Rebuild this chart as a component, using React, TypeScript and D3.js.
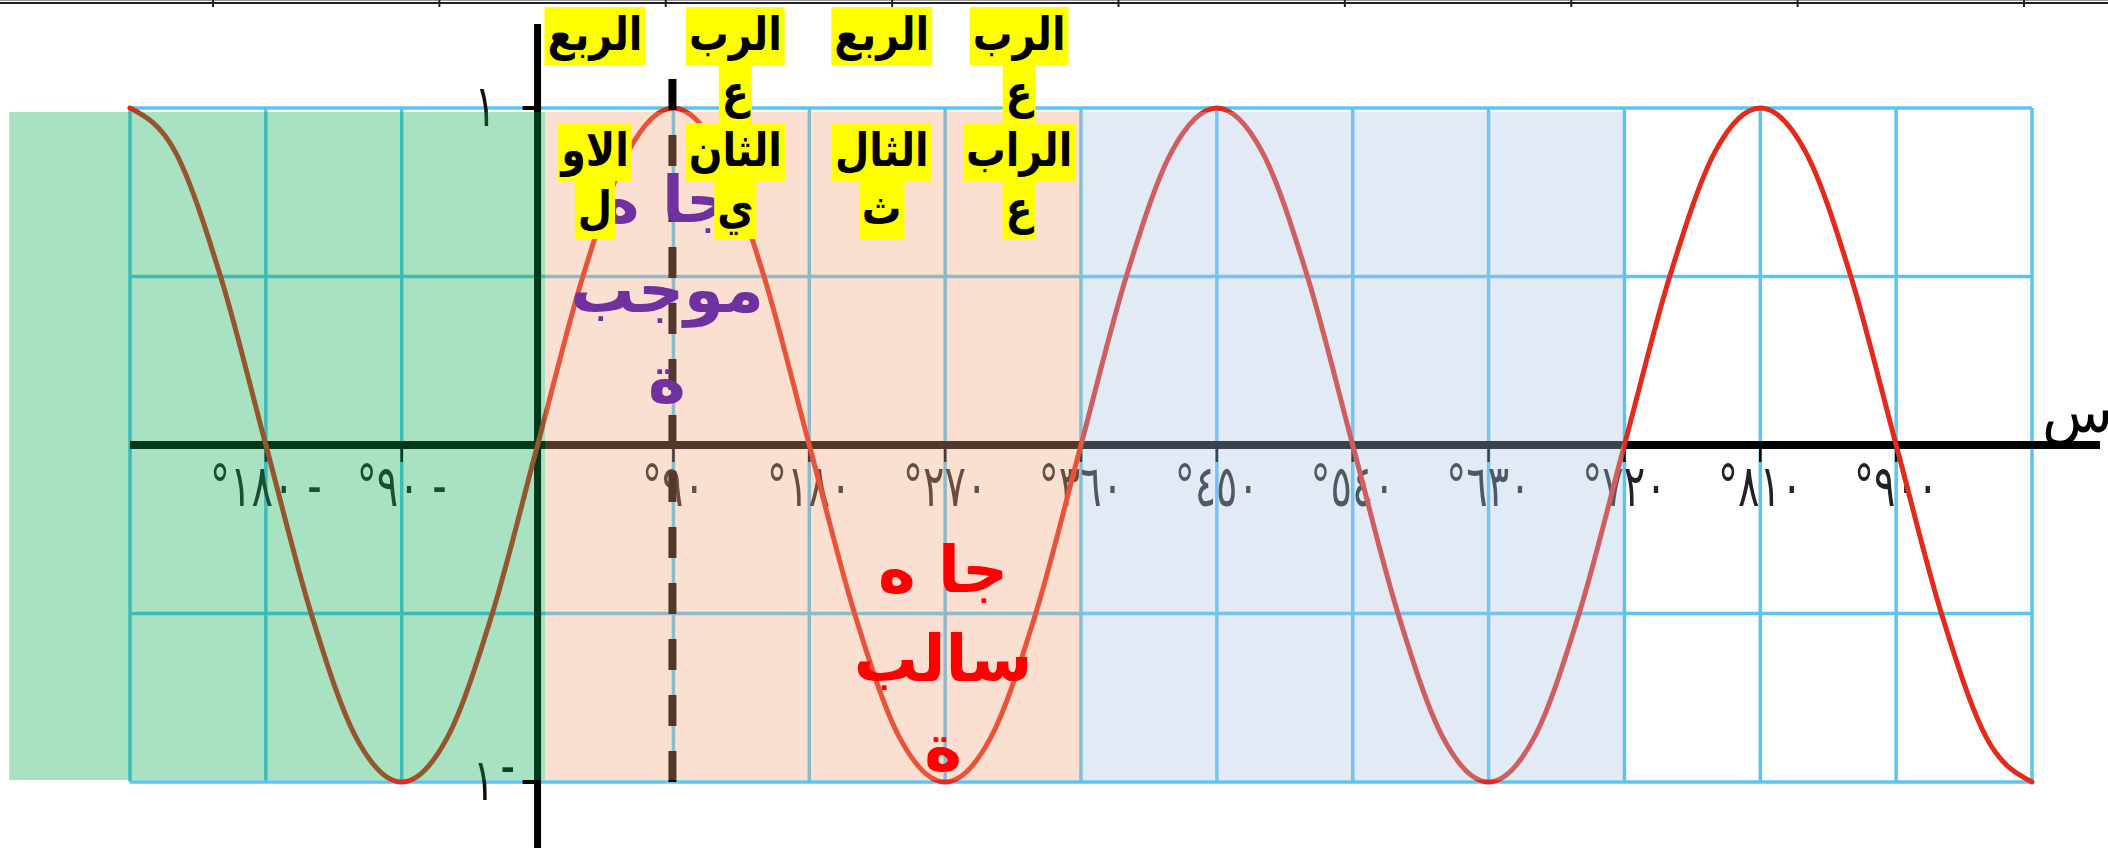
import React, { useLayoutEffect, useRef, useState } from 'react';
import * as d3 from 'd3';

const W = 2108;
const H = 848;

// Sine curve samples, every 30 degrees from -270 to 990
const angles = [
  -270, -240, -210, -180, -150, -120, -90, -60, -30, 0, 30, 60, 90, 120, 150, 180, 210, 240, 270, 300, 330, 360,
  390, 420, 450, 480, 510, 540, 570, 600, 630, 660, 690, 720, 750, 780, 810, 840, 870, 900, 930, 960, 990,
];
const sineValues = [
  1, 0.87, 0.5, 0, -0.5, -0.87, -1, -0.87, -0.5, 0, 0.5, 0.87, 1, 0.87, 0.5, 0, -0.5, -0.87, -1, -0.87, -0.5, 0,
  0.5, 0.87, 1, 0.87, 0.5, 0, -0.5, -0.87, -1, -0.87, -0.5, 0, 0.5, 0.87, 1, 0.87, 0.5, 0, -0.5, -0.87, -1,
];

// Grid
const gridAngles = [-270, -180, -90, 0, 90, 180, 270, 360, 450, 540, 630, 720, 810, 900, 990];
const gridLevels = [-1, -0.5, 0.5, 1];

// Axis ticks
const tickAngles = [-180, -90, 90, 180, 270, 360, 450, 540, 630, 720, 810, 900];
const yTickValues = [1, -1];
const rulerTicks = [0, 1, 2, 3, 4, 5, 6, 7, 8];

// Shaded bands (degrees)
const bandBounds: [number, number][] = [[-350, 5], [5, 360], [360, 719]];
const bandColors = ['#00aa4c', '#f4a378', '#aac0e6'];

// Dashed marker at 90 degrees
const markerAngle = 90;

// Quadrant captions, wrapped line by line
const quadrantLines = [
  ['الربع', '', 'الاو', 'ل'],
  ['الرب', 'ع', 'الثان', 'ي'],
  ['الربع', '', 'الثال', 'ث'],
  ['الرب', 'ع', 'الراب', 'ع'],
];
const quadrantCenters = [38, 131, 228, 319];

const positiveLines = ['جا ه', 'موجب', 'ة'];
const negativeLines = ['جا ه', 'سالب', 'ة'];
const axisName = 'س';

const ARABIC = 'DejaVu Sans, sans-serif';
const toArabicDigits = (n: number) => String(n).replace(/\d/g, (d) => '٠١٢٣٤٥٦٧٨٩'[+d]);
// visual (left-to-right) order: degree sign, digits, then minus
const formatAngle = (a: number) => '°' + toArabicDigits(Math.abs(a)) + (a < 0 ? ' -' : '');

const ltrOverride: React.CSSProperties = { direction: 'ltr', unicodeBidi: 'bidi-override' } as any;

const CAP_SX = 0.86; // horizontal squeeze of caption glyphs
const NUM_SY = 1.45; // vertical stretch of numeral glyphs

export default function App() {
  const x = d3.scaleLinear().domain([-270, 990]).range([130, 2032]);
  const y = d3.scaleLinear().domain([-1, 1]).range([782, 108]);
  const ruler = d3.scaleLinear().domain([0, 8]).range([213, 2024]);

  const linePath = d3
    .line<number>()
    .x((_, i) => x(angles[i]))
    .y((d) => y(d))
    .curve(d3.curveMonotoneX)(sineValues) as string;

  const flat = quadrantLines.flatMap((lines, q) => lines.map((t, li) => ({ q, li, t })));
  const refs = useRef<(SVGTextElement | null)[]>([]);
  const [widths, setWidths] = useState<number[]>([]);
  useLayoutEffect(() => {
    setWidths(refs.current.map((el) => (el ? el.getComputedTextLength() * CAP_SX : 0)));
  }, []);

  const capTop = 7;
  const capPitch = 58;
  const capBase = 43;
  const capPad = 3;

  const bandTop = y(0.988);
  const bandBottom = y(-0.994);

  return (
    <svg width={W} height={H} style={{ position: 'absolute', left: 0, top: 0, background: '#fff' }}>
      {/* ruler strip along the top edge */}
      <line x1={0} x2={W} y1={0.5} y2={0.5} stroke="#999" strokeWidth={1} />
      <line x1={0} x2={W} y1={3} y2={3} stroke="#222" strokeWidth={2} />
      {rulerTicks.map((t) => (
        <line key={t} x1={ruler(t)} x2={ruler(t)} y1={0} y2={7} stroke="#222" strokeWidth={2} />
      ))}

      {/* grid */}
      {gridAngles.map((a) => (
        <line key={'gv' + a} x1={x(a)} x2={x(a)} y1={y(1)} y2={y(-1)} stroke="#5bc4ef" strokeWidth={3.5} />
      ))}
      {gridLevels.map((v) => (
        <line key={'gh' + v} x1={x(-270)} x2={x(990)} y1={y(v)} y2={y(v)} stroke="#5bc4ef" strokeWidth={3.5} />
      ))}

      {/* x tick labels */}
      {tickAngles.map((a) => (
        <text
          key={'tl' + a}
          transform={`translate(${x(a)},506) scale(1,${NUM_SY})`}
          textAnchor="middle"
          fontFamily={ARABIC}
          fontSize={40}
          fill="#222"
          style={ltrOverride}
        >
          {formatAngle(a)}
        </text>
      ))}

      {/* x axis */}
      <line x1={x(-270)} x2={2100} y1={y(0)} y2={y(0)} stroke="#000" strokeWidth={8} />
      {tickAngles.map((a) => (
        <line key={'tk' + a} x1={x(a)} x2={x(a)} y1={y(0) + 3} y2={y(0) + 17} stroke="#000" strokeWidth={2.5} />
      ))}

      {/* y axis */}
      <line x1={x(0)} x2={x(0)} y1={24} y2={H} stroke="#000" strokeWidth={7} />
      {yTickValues.map((v) => (
        <line key={'yt' + v} x1={x(0) - 15} x2={x(0)} y1={y(v)} y2={y(v)} stroke="#000" strokeWidth={4} />
      ))}
      <text
        transform={`translate(496,${y(1) + 18}) scale(1,${NUM_SY})`}
        textAnchor="end"
        fontFamily={ARABIC}
        fontSize={40}
        fill="#111"
      >
        {toArabicDigits(yTickValues[0])}
      </text>
      <text
        transform={`translate(515,${y(-1) + 18}) scale(1,${NUM_SY})`}
        textAnchor="end"
        fontFamily={ARABIC}
        fontSize={40}
        fill="#111"
        style={ltrOverride}
      >
        {toArabicDigits(Math.abs(yTickValues[1]))}
        <tspan dx={6} dy={-10}>-</tspan>
      </text>

      {/* sine curve */}
      <path d={linePath} fill="none" stroke="#e32b1b" strokeWidth={5} strokeLinecap="round" />

      {/* dashed marker */}
      <line
        x1={x(markerAngle) - 1}
        x2={x(markerAngle) - 1}
        y1={79}
        y2={y(-1)}
        stroke="#000"
        strokeWidth={8}
        strokeDasharray="31 25"
      />

      {/* translucent bands */}
      {bandBounds.map(([a0, a1], i) => (
        <rect
          key={'band' + i}
          x={x(a0)}
          y={bandTop}
          width={x(a1) - x(a0)}
          height={bandBottom - bandTop}
          fill={bandColors[i]}
          fillOpacity={0.34}
        />
      ))}

      {/* positive-sine note */}
      {positiveLines.map((t, i) => (
        <text
          key={'pos' + i}
          x={x(85.7)}
          y={222 + i * 90}
          textAnchor="middle"
          fontFamily={ARABIC}
          fontWeight="bold"
          fontSize={64}
          fill="#7030a0"
        >
          {t}
        </text>
      ))}

      {/* quadrant captions */}
      {flat.map((d, k) =>
        d.t ? (
          <rect
            key={'hl' + k}
            x={x(quadrantCenters[d.q]) - (widths[k] || 0) / 2 - capPad}
            y={capTop + d.li * capPitch}
            width={(widths[k] || 0) + capPad * 2}
            height={capPitch}
            fill="#ffff00"
          />
        ) : null
      )}
      {flat.map((d, k) => (
        <text
          key={'cap' + k}
          ref={(el) => {
            refs.current[k] = el;
          }}
          transform={`translate(${x(quadrantCenters[d.q])},${capTop + d.li * capPitch + capBase}) scale(${CAP_SX},1)`}
          textAnchor="middle"
          fontFamily={ARABIC}
          fontWeight="bold"
          fontSize={46}
          fill="#000"
        >
          {d.t}
        </text>
      ))}

      {/* negative-sine note */}
      {negativeLines.map((t, i) => (
        <text
          key={'neg' + i}
          x={x(268.6)}
          y={592 + i * 89}
          textAnchor="middle"
          fontFamily={ARABIC}
          fontWeight="bold"
          fontSize={64}
          fill="#ff0000"
        >
          {t}
        </text>
      ))}

      {/* axis name */}
      <text x={2042} y={432} fontFamily={ARABIC} fontSize={58} fill="#000">
        {axisName}
      </text>
    </svg>
  );
}
